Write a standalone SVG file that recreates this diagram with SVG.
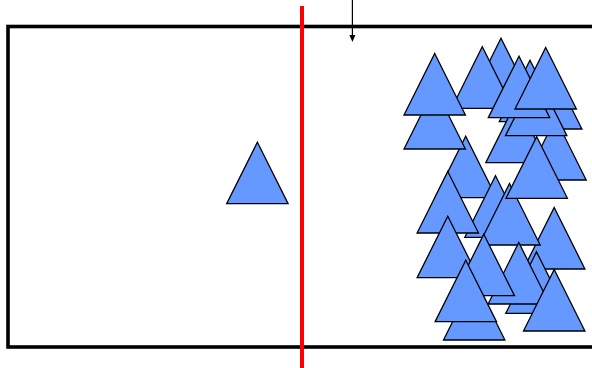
<svg xmlns="http://www.w3.org/2000/svg" width="592" height="368" viewBox="0 0 592 368">
<style>
.tri{fill:#6699FF;stroke:#000;stroke-width:1.3;stroke-linejoin:miter}
.frame{fill:none;stroke:#000;stroke-width:3.6}
.red{stroke:#FF0000;stroke-width:4}
.conn{stroke:#000;stroke-width:1.2;fill:none}
</style>
<defs>
<path id="t" d="M0,0 L30.7,61.5 L-30.7,61.5 Z"/>
</defs>
<g id="frame"><rect class="frame" x="8" y="26.5" width="600" height="320.5"/></g>
<g id="single"><use class="tri" href="#t" x="257.4" y="142.2"/></g>
<g id="cluster">
<use class="tri" href="#t" x="501" y="38.3"/>
<use class="tri" href="#t" x="482.3" y="46.8"/>
<use class="tri" href="#t" x="530" y="60.2"/>
<use class="tri" href="#t" x="551.2" y="67.5"/>
<use class="tri" href="#t" x="516.5" y="101.2"/>
<use class="tri" href="#t" x="555.5" y="118.5"/>
<use class="tri" href="#t" x="536.2" y="74.2"/>
<use class="tri" href="#t" x="519" y="56.2"/>
<use class="tri" href="#t" x="545.7" y="47.5"/>
<use class="tri" href="#t" x="465.7" y="136.2"/>
<use class="tri" href="#t" x="434.7" y="87.5"/>
<use class="tri" href="#t" x="434.7" y="53.5"/>
<use class="tri" href="#t" x="495.5" y="175.8"/>
<use class="tri" href="#t" x="447.8" y="171.5"/>
<use class="tri" href="#t" x="554.2" y="207.5"/>
<use class="tri" href="#t" x="509.5" y="183.5"/>
<use class="tri" href="#t" x="536.7" y="136.8"/>
<use class="tri" href="#t" x="536.5" y="251.8"/>
<use class="tri" href="#t" x="518.8" y="242.5"/>
<use class="tri" href="#t" x="447.8" y="216.2"/>
<use class="tri" href="#t" x="483.8" y="234.2"/>
<use class="tri" href="#t" x="554.2" y="269.5"/>
<use class="tri" href="#t" x="474.2" y="278.5"/>
<use class="tri" href="#t" x="465.8" y="260.2"/>
</g>
<g id="connectors">
<line class="red" x1="302" y1="6" x2="302" y2="368"/>
<line class="conn" x1="352.4" y1="0" x2="352.4" y2="35"/>
<path d="M349.4,35 L355.4,35 L352.4,42 Z" fill="#000"/>
</g>
</svg>
